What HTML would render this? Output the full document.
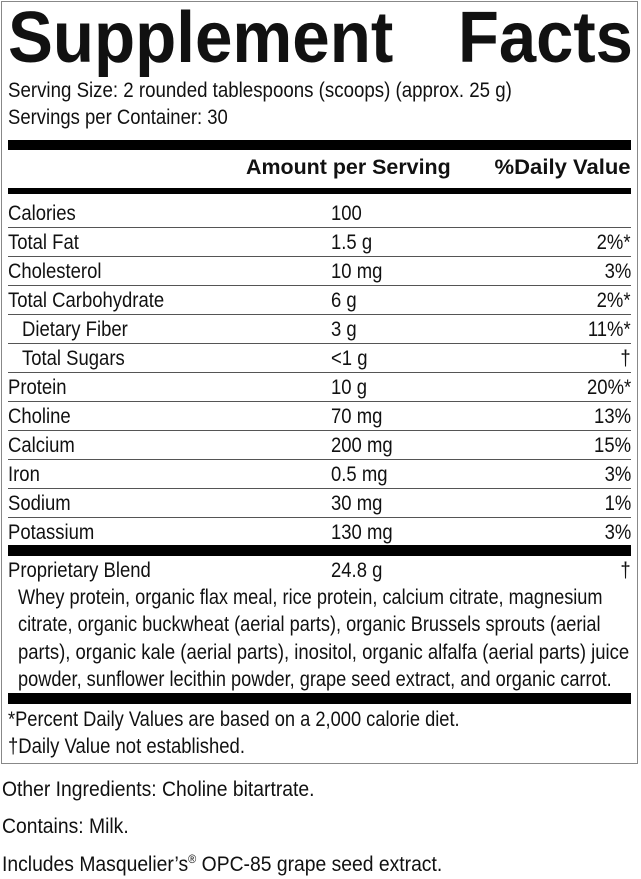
<!DOCTYPE html>
<html><head><meta charset="utf-8"><style>
*{margin:0;padding:0;box-sizing:border-box}
body{width:641px;height:879px;background:#fff;position:relative;overflow:hidden;font-family:"Liberation Sans",sans-serif;color:#111;font-size:21px}
.box{position:absolute;left:1px;top:1px;width:637px;height:763px;border:1px solid #888}
.t{position:absolute;white-space:nowrap;line-height:1;transform:scaleX(0.88);transform-origin:0 0}
.bar{position:absolute;left:8px;width:623px;background:#000}
.hl{position:absolute;left:8px;width:623px;height:1px;background:#555}
.r{position:absolute;right:10px;white-space:nowrap;line-height:1;transform:scaleX(0.88);transform-origin:100% 0}
.title{position:absolute;left:8px;top:2px;font-weight:bold;font-size:72px;line-height:1;transform-origin:0 0;white-space:nowrap}
.ing{transform:scaleX(0.865)}
.ft{transform:scaleX(0.92)}
</style></head><body>
<div class="box"></div>
<div class="title" style="transform:scaleX(0.935)">Supplement</div>
<div class="title" style="left:458px;transform:scaleX(0.93)">Facts</div>
<div class="t" style="left:8px;top:80px;transform:scaleX(0.89)">Serving Size: 2 rounded tablespoons (scoops) (approx. 25 g)</div>
<div class="t" style="left:8px;top:107px">Servings per Container: 30</div>
<div class="bar" style="top:140px;height:10px"></div>
<div class="t" style="left:246px;top:157px;font-weight:bold;transform:scaleX(1.02)">Amount per Serving</div>
<div class="r" style="top:157px;font-weight:bold;transform:scaleX(1.05)">%Daily Value</div>
<div class="bar" style="top:188px;height:6px"></div>

<div class="t" style="left:8px;top:203px">Calories</div><div class="t" style="left:331px;top:203px">100</div>
<div class="hl" style="top:227px"></div>
<div class="t" style="left:8px;top:232px">Total Fat</div><div class="t" style="left:331px;top:232px">1.5 g</div><div class="r" style="top:232px">2%*</div>
<div class="hl" style="top:256px"></div>
<div class="t" style="left:8px;top:261px">Cholesterol</div><div class="t" style="left:331px;top:261px">10 mg</div><div class="r" style="top:261px">3%</div>
<div class="hl" style="top:285px"></div>
<div class="t" style="left:8px;top:290px">Total Carbohydrate</div><div class="t" style="left:331px;top:290px">6 g</div><div class="r" style="top:290px">2%*</div>
<div class="hl" style="top:314px"></div>
<div class="t" style="left:22px;top:319px">Dietary Fiber</div><div class="t" style="left:331px;top:319px">3 g</div><div class="r" style="top:319px">11%*</div>
<div class="hl" style="top:343px"></div>
<div class="t" style="left:22px;top:348px">Total Sugars</div><div class="t" style="left:331px;top:348px">&lt;1 g</div><div class="r" style="top:348px">†</div>
<div class="hl" style="top:372px"></div>
<div class="t" style="left:8px;top:377px">Protein</div><div class="t" style="left:331px;top:377px">10 g</div><div class="r" style="top:377px">20%*</div>
<div class="hl" style="top:401px"></div>
<div class="t" style="left:8px;top:406px">Choline</div><div class="t" style="left:331px;top:406px">70 mg</div><div class="r" style="top:406px">13%</div>
<div class="hl" style="top:430px"></div>
<div class="t" style="left:8px;top:435px">Calcium</div><div class="t" style="left:331px;top:435px">200 mg</div><div class="r" style="top:435px">15%</div>
<div class="hl" style="top:459px"></div>
<div class="t" style="left:8px;top:464px">Iron</div><div class="t" style="left:331px;top:464px">0.5 mg</div><div class="r" style="top:464px">3%</div>
<div class="hl" style="top:488px"></div>
<div class="t" style="left:8px;top:493px">Sodium</div><div class="t" style="left:331px;top:493px">30 mg</div><div class="r" style="top:493px">1%</div>
<div class="hl" style="top:517px"></div>
<div class="t" style="left:8px;top:522px">Potassium</div><div class="t" style="left:331px;top:522px">130 mg</div><div class="r" style="top:522px">3%</div>
<div class="bar" style="top:545px;height:11px"></div>
<div class="t" style="left:8px;top:560px">Proprietary Blend</div><div class="t" style="left:331px;top:560px">24.8 g</div><div class="r" style="top:560px">†</div>
<div class="t ing" style="left:18px;top:587px">Whey protein, organic flax meal, rice protein, calcium citrate, magnesium</div>
<div class="t ing" style="left:18px;top:614px">citrate, organic buckwheat (aerial parts), organic Brussels sprouts (aerial</div>
<div class="t ing" style="left:18px;top:642px;transform:scaleX(0.88)">parts), organic kale (aerial parts), inositol, organic alfalfa (aerial parts) juice</div>
<div class="t ing" style="left:18px;top:669px">powder, sunflower lecithin powder, grape seed extract, and organic carrot.</div>
<div class="bar" style="top:693px;height:11px"></div>
<div class="t" style="left:8px;top:709px;transform:scaleX(0.87)">*Percent Daily Values are based on a 2,000 calorie diet.</div>
<div class="t" style="left:8px;top:736px">†Daily Value not established.</div>
<div class="t ft" style="left:2px;top:779px">Other Ingredients: Choline bitartrate.</div>
<div class="t ft" style="left:2px;top:816px">Contains: Milk.</div>
<div class="t ft" style="left:2px;top:853px">Includes Masquelier’s<sup style="font-size:12px">®</sup> OPC-85 grape seed extract.</div>
</body></html>
